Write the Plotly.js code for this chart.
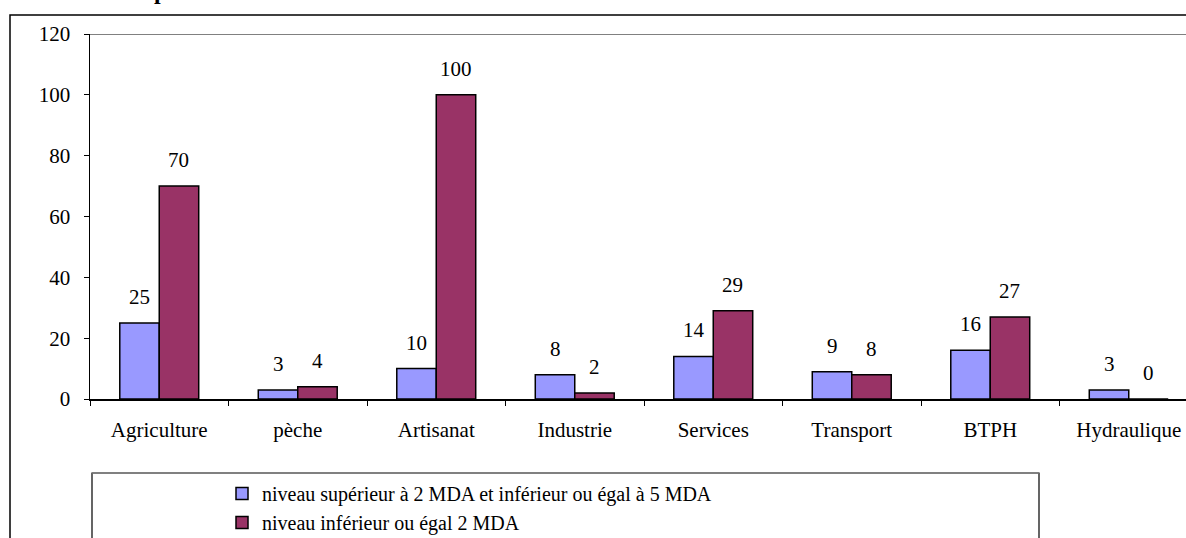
<!DOCTYPE html>
<html>
<head>
<meta charset="utf-8">
<script src="https://cdn.plot.ly/plotly-3.0.1.min.js"></script>
<style>html,body{margin:0;padding:0;background:#fff;}#chart{width:1186px;height:538px;}</style>
</head>
<body>
<div id="chart"></div>
<script>
const categories = ["Agriculture", "pèche", "Artisanat", "Industrie", "Services", "Transport", "BTPH", "Hydraulique"];
const seriesSup = [25, 3, 10, 8, 14, 9, 16, 3];
const seriesInf = [70, 4, 100, 2, 29, 8, 27, 0];
const seriesNames = ["niveau supérieur à 2 MDA et inférieur ou égal à 5 MDA", "niveau inférieur ou égal 2 MDA"];
const yTicks = [0, 20, 40, 60, 80, 100, 120];

const W = 1186, H = 538;
const ml = 90, mt = 34, mb = 139, mr = 0;
const plotW = W - ml - mr, plotH = H - mt - mb;
const catW = 138.5;
const px2x = p => (p - ml) / plotW;
const px2y = p => (H - mb - p) / plotH;
const barPx = catW * 0.57 / 2;

const FAM = "Liberation Serif";
const font = {family: FAM, size: 21, color: "#000"};

const traces = [
  {type: "bar", x: categories, y: seriesSup, name: seriesNames[0],
   marker: {color: "#9999FF", line: {color: "#000", width: 1.5}}, hoverinfo: "none"},
  {type: "bar", x: categories, y: seriesInf, name: seriesNames[1],
   marker: {color: "#993366", line: {color: "#000", width: 1.5}}, hoverinfo: "none"}
];

const annotations = [];
[seriesSup, seriesInf].forEach((s, k) => {
  s.forEach((v, i) => {
    annotations.push({x: categories[i], y: v, xref: "x", yref: "y", text: String(v),
      showarrow: false, xshift: (k === 0 ? -1 : 1) * barPx / 2, yshift: 26,
      yanchor: "middle", xanchor: "center", font: font});
  });
});
annotations.push({x: px2x(160), y: px2y(-9), xref: "paper", yref: "paper", text: "<b>p</b>",
  showarrow: false, xanchor: "center", yanchor: "middle",
  font: {family: FAM, size: 24, color: "#000"}});

const shapes = [
  {type: "line", xref: "paper", yref: "y", x0: 0, x1: 1.05, y0: 120, y1: 120, line: {color: "#808080", width: 2}},
  {type: "rect", xref: "paper", yref: "paper", x0: px2x(10), x1: px2x(1300), y0: px2y(700), y1: px2y(15),
   line: {color: "#000", width: 1.5}, fillcolor: "rgba(0,0,0,0)", layer: "below"},
  {type: "rect", xref: "paper", yref: "paper", x0: px2x(92), x1: px2x(1039), y0: px2y(700), y1: px2y(473),
   line: {color: "#000", width: 1.2}, fillcolor: "rgba(0,0,0,0)", layer: "below"},
  {type: "line", xref: "paper", yref: "paper", x0: px2x(92), x1: px2x(1039), y0: px2y(473), y1: px2y(473),
   line: {color: "#808080", width: 1.5}}
];

const layout = {
  width: W, height: H,
  margin: {l: ml, r: mr, t: mt, b: mb, pad: 0, autoexpand: false},
  paper_bgcolor: "#fff", plot_bgcolor: "#fff",
  barmode: "group", bargap: 0.43, bargroupgap: 0,
  showlegend: true,
  legend: {x: px2x(222), y: px2y(474), xanchor: "left", yanchor: "top",
    font: {family: FAM, size: 20, color: "#000"}, bgcolor: "rgba(0,0,0,0)",
    borderwidth: 0, tracegroupgap: 0, itemwidth: 30},
  xaxis: {type: "category", range: [-0.5, -0.5 + plotW / catW], showgrid: false, zeroline: false,
    showline: true, linecolor: "#000", linewidth: 1.5,
    ticks: "outside", tickson: "boundaries", ticklen: 5, tickcolor: "#000", tickwidth: 1,
    tickfont: font, ticklabelstandoff: 11, fixedrange: true},
  yaxis: {range: [0, 120], tickvals: yTicks, ticktext: yTicks.map(String), showgrid: false,
    zeroline: false, showline: true, linecolor: "#000", linewidth: 1.5,
    ticks: "outside", ticklen: 5, tickcolor: "#000", tickwidth: 1,
    tickfont: font, ticklabelstandoff: 9, fixedrange: true},
  annotations: annotations,
  shapes: shapes
};

Plotly.newPlot("chart", traces, layout, {displayModeBar: false, staticPlot: true});
</script>
</body>
</html>
